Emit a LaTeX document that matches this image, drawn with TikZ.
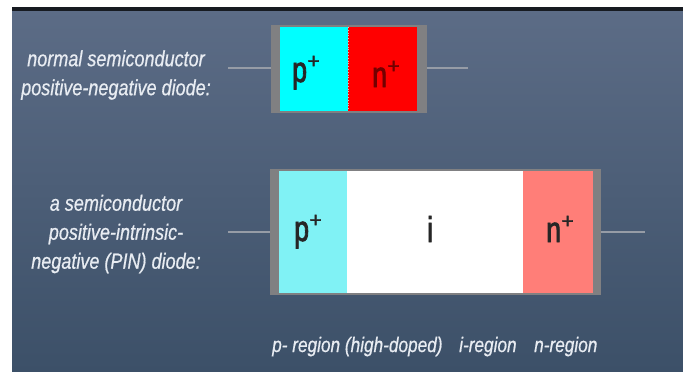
\documentclass[tikz,border=0pt]{standalone}
\usepackage{fontspec}
\setmainfont{Liberation Sans}
\newfontfamily\condfont{Liberation Sans}[FakeStretch=0.82,FakeBold=0.6]
\newfontfamily\dopfont{Liberation Sans}[FakeStretch=0.74,FakeBold=2.2]
\newfontfamily\plusfont{Liberation Sans}[FakeBold=2]
\newcommand{\dopsup}{\kern0.5pt\raisebox{14pt}{\plusfont\fontsize{21}{21}\selectfont +}}
\definecolor{bgtop}{RGB}{92,108,134}
\definecolor{bgbot}{RGB}{60,80,104}
\definecolor{edgegray}{RGB}{128,128,130}
\definecolor{leadgray}{RGB}{150,156,166}
\definecolor{pcyan}{RGB}{0,255,255}
\definecolor{nred}{RGB}{255,0,0}
\definecolor{lcyan}{RGB}{128,242,245}
\definecolor{salmon}{RGB}{255,126,120}
\definecolor{labelwhite}{RGB}{232,236,242}
\tikzset{
  region/.style={draw=none, inner sep=0pt, outer sep=0pt},
  lead/.style={draw=leadgray, line width=2pt},
  caplabel/.style={text=labelwhite, font=\condfont\itshape\fontsize{22}{29}\selectfont, align=center, inner sep=0pt},
  botlabel/.style={text=labelwhite, font=\condfont\itshape\fontsize{21}{21}\selectfont, inner sep=0pt, anchor=base west},
  doping/.style={text=black!85, font=\dopfont\fontsize{36}{36}\selectfont, inner sep=0pt, anchor=base west},
}
\begin{document}
\begin{tikzpicture}[x=1pt,y=-1pt]
\useasboundingbox (0,0) rectangle (683,372);
\fill[white] (0,0) rectangle (683,372);
\shade[top color=bgtop, bottom color=bgbot] (12,9) rectangle (683,372);
\fill[black!75!bgtop] (12,7) rectangle (683,11);
% ---- top PN diode ----
\fill[edgegray] (271,25) rectangle (427,113);
\fill[pcyan] (280,27) rectangle (348,111);
\fill[nred] (348,27) rectangle (417,111);
\draw[white!70!nred, line width=0.8pt, dotted] (348,27) -- (348,111);
\node[region, minimum width=68pt, minimum height=84pt] (p1) at (314,69) {};
\node[region, minimum width=69pt, minimum height=84pt] (n1) at (382.5,69) {};
\node[doping] (p1t) at (292,82) {p\dopsup};
\node[doping, text=black!55!red] (n1t) at (372,87) {n\dopsup};
\coordinate (l1) at (228,68);
\coordinate (r1) at (468,68);
\draw[lead] (l1) -- (271,68);
\draw[lead] (427,68) -- (r1);
% ---- bottom PIN diode ----
\fill[edgegray] (270,169) rectangle (601,295);
\fill[lcyan] (279,171) rectangle (347,293);
\fill[white] (347,171) rectangle (523,293);
\fill[salmon] (523,171) rectangle (593,293);
\node[region, minimum width=68pt, minimum height=122pt] (p2) at (313,232) {};
\node[region, minimum width=176pt, minimum height=122pt] (i2) at (435,232) {};
\node[region, minimum width=70pt, minimum height=122pt] (n2) at (558,232) {};
\node[doping] (p2t) at (294,241) {p\dopsup};
\node[doping] (i2t) at (427,242) {i};
\node[doping] (n2t) at (546,242) {n\dopsup};
\coordinate (l2) at (228,232);
\coordinate (r2) at (645,232);
\draw[lead] (l2) -- (270,232);
\draw[lead] (601,232) -- (r2);
% ---- labels ----
\node[caplabel] (lab1) at (116,75) {normal semiconductor\\positive-negative diode:};
\node[caplabel] (lab2) at (116,234) {a semiconductor\\positive-intrinsic-\\negative (PIN) diode:};
\node[botlabel] (lab3) at (272,352) {p- region (high-doped)};
\node[botlabel] (lab4) at (459,352) {i-region};
\node[botlabel] (lab5) at (534,352) {n-region};
\end{tikzpicture}
\end{document}
